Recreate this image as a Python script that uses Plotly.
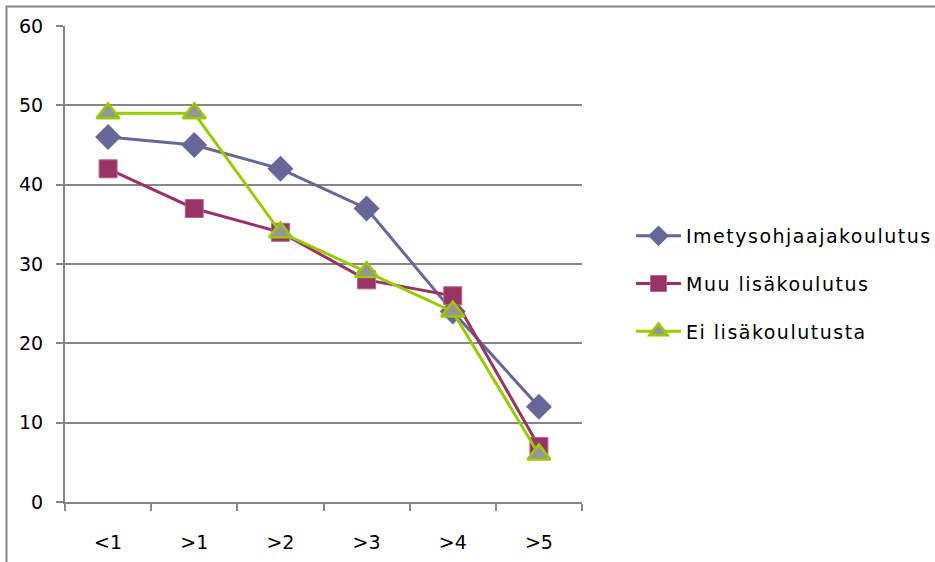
import plotly.graph_objects as go

# Categories along the x axis
categories = ["<1", ">1", ">2", ">3", ">4", ">5"]

# Series values
imetysohjaaja = [46, 45, 42, 37, 24, 12]
muu_lisakoulutus = [42, 37, 34, 28, 26, 7]
ei_lisakoulutusta = [49, 49, 34, 29, 24, 6]

# Y axis ticks
y_ticks = [0, 10, 20, 30, 40, 50, 60]

GRID = "#868686"
FONT = dict(family="DejaVu Sans, Verdana, sans-serif", size=19, color="#000000")

fig = go.Figure()

fig.add_trace(go.Scatter(
    x=categories, y=imetysohjaaja, name="Imetysohjaajakoulutus",
    mode="lines+markers", legendgroup="a",
    line=dict(color="#666699", width=3),
    marker=dict(symbol="diamond", size=20, color="#666699",
                line=dict(color="#666699", width=0)),
))
fig.add_trace(go.Scatter(
    x=categories, y=muu_lisakoulutus, name="Muu lisäkoulutus",
    mode="lines+markers", legendgroup="b",
    line=dict(color="#993366", width=3),
    marker=dict(symbol="square", size=18, color="#993366",
                line=dict(color="#b4668c", width=1)),
))
fig.add_trace(go.Scatter(
    x=categories, y=ei_lisakoulutusta, name="Ei lisäkoulutusta",
    mode="lines+markers", legendgroup="c",
    line=dict(color="#99CC00", width=3),
    marker=dict(symbol="triangle-up", size=20, color="#969696",
                line=dict(color="#99CC00", width=2.5)),
))

# Outer chart frame, partly running off the page edges
fig.add_shape(type="rect", xref="paper", yref="paper",
              x0=(6.5 - 65) / 517, x1=(960 - 65) / 517,
              y0=(502 - 590) / 476, y1=(502 - 6.5) / 476,
              line=dict(color="#8a8a8a", width=2), layer="below")

fig.update_layout(
    width=935, height=562,
    margin=dict(l=65, r=353, t=26, b=60, autoexpand=False),
    paper_bgcolor="white", plot_bgcolor="white",
    font=FONT,
    showlegend=True,
    legend=dict(
        xref="container", yref="container",
        x=631 / 935, y=1 - 284 / 562, xanchor="left", yanchor="middle",
        traceorder="grouped", tracegroupgap=20,
        font=FONT, bgcolor="rgba(0,0,0,0)", itemwidth=45,
    ),
    xaxis=dict(
        type="category", range=[-0.5, 5.5], automargin=False,
        tickson="boundaries", ticks="outside", ticklen=7, tickwidth=2,
        tickcolor=GRID, showline=True, linecolor=GRID, linewidth=2,
        showgrid=False, ticklabelstandoff=22, zeroline=False,
    ),
    yaxis=dict(
        range=[0, 60], tickvals=y_ticks, ticks="outside", ticklen=7,
        automargin=False,
        tickwidth=2, tickcolor=GRID, showline=True, linecolor=GRID,
        linewidth=2, showgrid=True, gridcolor=GRID, gridwidth=2,
        zeroline=False, ticklabelstandoff=9,
    ),
)

# Slightly wider letter spacing for the legend entries; let the longest
# entry run to the page edge instead of being clipped by the legend box
legend_style = (
    "var s=document.createElement('style');"
    "s.textContent='.legendtext{letter-spacing:1.5px}';"
    "document.head.appendChild(s);"
    "document.querySelectorAll('g.legend [clip-path]').forEach("
    "function(e){e.removeAttribute('clip-path');});"
)

fig.write_html("out.html", post_script=legend_style)
